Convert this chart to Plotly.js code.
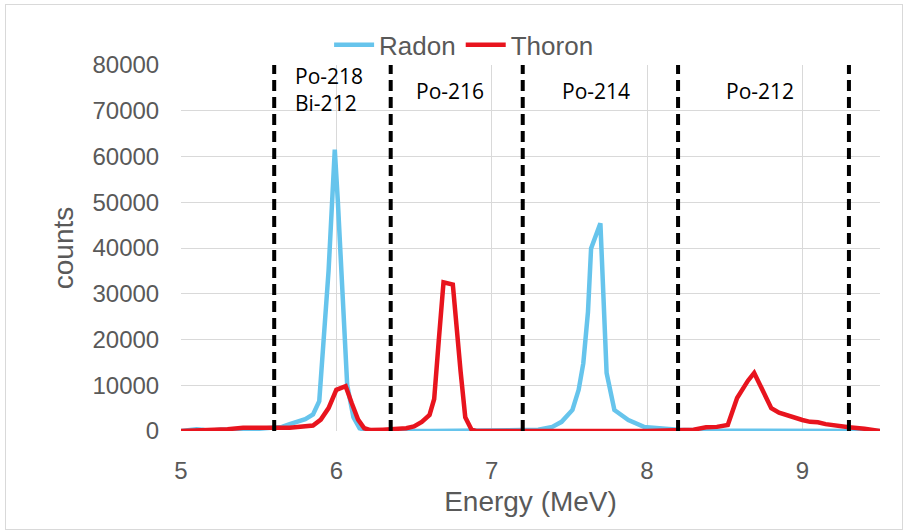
<!DOCTYPE html>
<html>
<head>
<meta charset="utf-8">
<script src="https://cdn.plot.ly/plotly-3.0.1.min.js"></script>
<style>
  html, body { margin: 0; padding: 0; background: #fff; }
  #chart { width: 904px; height: 530px; }
  #frame { position: absolute; left: 5px; top: 4px; width: 896px; height: 524px; border: 1px solid #d9d9d9; pointer-events: none; }
</style>
</head>
<body>
<div id="chart"></div>
<div id="frame"></div>
<script>
// Radon spectrum
const radonEnergy = [5.0,5.05,5.1,5.15,5.2,5.25,5.3,5.35,5.4,5.45,5.5,5.55,5.6,5.65,5.7,5.75,5.8,5.85,5.89,5.95,5.99,6.01,6.04,6.07,6.11,6.15,6.2,6.3,6.4,6.5,6.6,6.7,6.8,6.9,7.0,7.1,7.2,7.3,7.39,7.45,7.52,7.56,7.59,7.62,7.64,7.7,7.74,7.79,7.88,7.98,8.1,8.2,8.4,8.6,8.8,9.0,9.2,9.4,9.5];
const radonCounts = [0,200,400,200,100,300,400,300,200,300,400,500,600,900,1500,2000,2600,3600,6500,35000,61500,50000,28000,10000,3000,600,100,0,0,0,0,0,0,0,100,100,200,300,900,2000,4600,9000,14800,26000,39900,45400,12700,4600,2400,900,500,300,100,100,100,100,50,0,0];

// Thoron spectrum
const thoronEnergy = [5.0,5.1,5.2,5.3,5.4,5.5,5.6,5.7,5.8,5.85,5.9,5.95,6.0,6.03,6.06,6.1,6.14,6.18,6.22,6.3,6.4,6.45,6.5,6.55,6.6,6.63,6.66,6.69,6.75,6.78,6.8,6.83,6.87,6.9,7.0,7.5,8.0,8.3,8.38,8.45,8.52,8.58,8.65,8.69,8.74,8.8,8.85,8.9,8.95,9.0,9.05,9.1,9.15,9.22,9.3,9.4,9.5];
const thoronCounts = [0,100,200,400,700,800,700,700,900,1200,2500,5000,9000,9500,9800,6000,2500,600,200,300,400,600,1000,2000,3500,7000,20000,32500,32000,20000,13000,3000,300,0,0,0,0,300,800,900,1300,7200,11000,12700,9000,5000,4000,3400,2900,2400,2000,1900,1500,1100,800,500,0];

// Energy window boundaries (MeV) and window labels
const windowEdges = [5.6, 6.35, 7.2, 8.2, 9.3];
const windowLabels = ["Po-218<br>Bi-212", "Po-216", "Po-214", "Po-212"];
const labelEnergy = [5.955, 6.73, 7.67, 8.73];
const labelCounts = [74600, 74300, 74300, 74300];

const yTicks = [0,10000,20000,30000,40000,50000,60000,70000,80000];
const xTicks = [5,6,7,8,9];

const traces = [
  { x: radonEnergy, y: radonCounts, type: 'scatter', mode: 'lines', name: 'Radon',
    line: { color: '#66C4EC', width: 4.5 } },
  { x: thoronEnergy, y: thoronCounts, type: 'scatter', mode: 'lines', name: 'Thoron',
    line: { color: '#E8141E', width: 4.5 } }
];

const shapes = windowEdges.map(e => ({
  type: 'line', xref: 'x', yref: 'y', x0: e, x1: e, y0: 0, y1: 80000,
  line: { color: '#000', width: 4, dash: '11px,6px' }, layer: 'above'
}));

const annotations = windowLabels.map((t, i) => ({
  x: labelEnergy[i], y: labelCounts[i], xref: 'x', yref: 'y', text: t,
  showarrow: false, align: 'left',
  font: { family: 'Open Sans, Noto Sans, sans-serif', size: 21, color: '#000' }
}));

const layout = {
  width: 904, height: 530,
  margin: { l: 181, r: 24, t: 65, b: 99 },
  paper_bgcolor: '#fff', plot_bgcolor: '#fff',
  font: { family: 'Liberation Sans, Arial, sans-serif', color: '#595959' },
  showlegend: true,
  legend: { orientation: 'h', x: 0.405, xanchor: 'center', y: 1.055, yanchor: 'middle',
    font: { size: 26, color: '#595959' }, bgcolor: 'rgba(0,0,0,0)', itemwidth: 40 },
  xaxis: {
    range: [5, 9.5], tickvals: xTicks, ticktext: xTicks.map(String),
    showgrid: true, gridcolor: '#d9d9d9', gridwidth: 1, zeroline: false, showline: false,
    ticks: 'outside', ticklen: 18, tickcolor: 'rgba(0,0,0,0)',
    tickfont: { size: 24, color: '#595959' },
    title: { text: 'Energy (MeV)', font: { size: 28, color: '#595959' }, standoff: 8 }
  },
  yaxis: {
    range: [0, 80000], tickvals: yTicks, ticktext: yTicks.map(String),
    showgrid: true, gridcolor: '#d9d9d9', gridwidth: 1, zeroline: false, showline: false,
    ticks: 'outside', ticklen: 16, tickcolor: 'rgba(0,0,0,0)',
    tickfont: { size: 24, color: '#595959' },
    title: { text: 'counts', font: { size: 28, color: '#595959' }, standoff: 10 }
  },
  shapes: shapes,
  annotations: annotations
};

Plotly.newPlot('chart', traces, layout, { displayModeBar: false, staticPlot: true });
</script>
</body>
</html>
